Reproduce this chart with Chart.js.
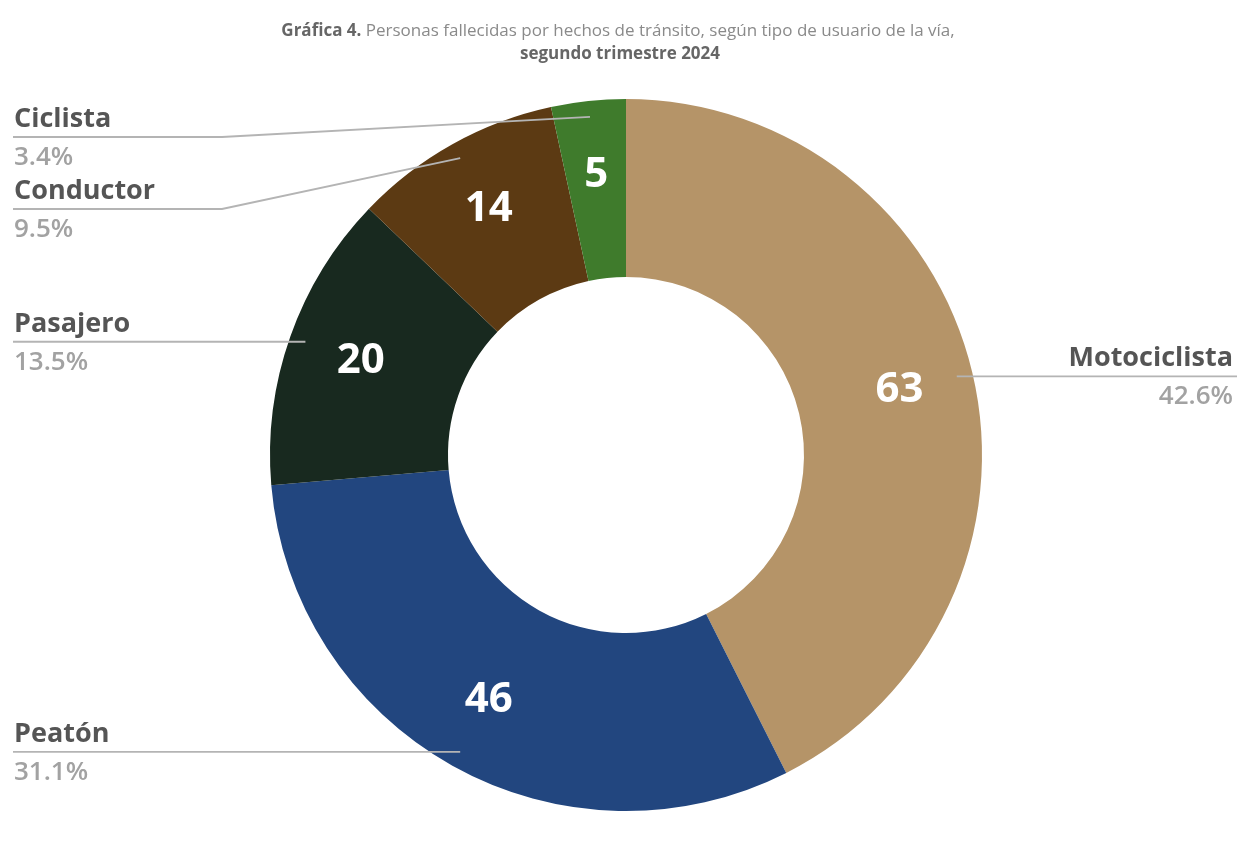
<!DOCTYPE html>
<html>
<head>
<meta charset="utf-8">
<script src="https://cdn.jsdelivr.net/npm/chart.js@4.4.1/dist/chart.umd.min.js"></script>
<style>
  html, body { margin: 0; padding: 0; background: #ffffff; }
  #wrap { position: relative; width: 1245px; height: 843px; }
  canvas { display: block; }
</style>
</head>
<body>
<div id="wrap"><canvas id="c" width="1245" height="843"></canvas></div>
<script>
// ---- data ----
const categories = ['Motociclista', 'Peatón', 'Pasajero', 'Conductor', 'Ciclista'];
const values = [63, 46, 20, 14, 5];
const percentLabels = ['42.6%', '31.1%', '13.5%', '9.5%', '3.4%'];
const colors = ['#B59468', '#22467F', '#18291F', '#5C3A13', '#3F7B2C'];
const titleLine1Bold = 'Gráfica 4.';
const titleLine1 = ' Personas fallecidas por hechos de tránsito, según tipo de usuario de la vía,';
const titleLine2 = 'segundo trimestre 2024';

// callout layout (label side, line y or null to follow anchor)
const calloutSide = ['right', 'left', 'left', 'left', 'left'];
const calloutLineY = [null, null, null, 209, 137];

const FONT = '"Open Sans", Lato, "Noto Sans", sans-serif';

const calloutPlugin = {
  id: 'callouts',
  afterDatasetsDraw(chart) {
    const ctx = chart.ctx;
    const meta = chart.getDatasetMeta(0);
    ctx.save();
    meta.data.forEach((arc, i) => {
      const p = arc.getProps(['x', 'y', 'startAngle', 'endAngle', 'innerRadius', 'outerRadius'], true);
      const mid = (p.startAngle + p.endAngle) / 2;
      // value label inside ring
      const rv = p.innerRadius + 0.58 * (p.outerRadius - p.innerRadius);
      ctx.fillStyle = '#ffffff';
      ctx.font = 'bold 42px ' + FONT;
      ctx.textAlign = 'center';
      ctx.textBaseline = 'middle';
      ctx.fillText(String(values[i]), p.x + rv * Math.cos(mid), p.y + rv * Math.sin(mid));

      // leader line
      const ra = p.outerRadius - 16;
      const ax = p.x + ra * Math.cos(mid);
      const ay = p.y + ra * Math.sin(mid);
      const ly = calloutLineY[i] == null ? ay : calloutLineY[i];
      ctx.strokeStyle = '#b4b4b4';
      ctx.lineWidth = 1.8;
      ctx.beginPath();
      let tx;
      if (calloutSide[i] === 'left') {
        tx = 14;
        ctx.moveTo(13, ly);
        if (calloutLineY[i] != null) ctx.lineTo(222, ly);
        ctx.lineTo(ax, ay);
        ctx.textAlign = 'left';
      } else {
        tx = 1233;
        ctx.moveTo(ax, ay);
        ctx.lineTo(1237, ly);
        ctx.textAlign = 'right';
      }
      ctx.stroke();
      ctx.textBaseline = 'alphabetic';
      ctx.fillStyle = '#555555';
      ctx.font = 'bold 27px ' + FONT;
      ctx.fillText(categories[i], tx, ly - 10);
      ctx.fillStyle = '#a2a2a2';
      ctx.font = '600 26px ' + FONT;
      ctx.fillText(percentLabels[i], tx, ly + 28);
    });

    // title
    ctx.textBaseline = 'middle';
    ctx.font = 'bold 17px ' + FONT;
    const w1 = ctx.measureText(titleLine1Bold).width;
    ctx.font = '17px ' + FONT;
    const w2 = ctx.measureText(titleLine1).width;
    let sx = 618 - (w1 + w2) / 2;
    ctx.textAlign = 'left';
    ctx.fillStyle = '#666666';
    ctx.font = 'bold 17px ' + FONT;
    ctx.fillText(titleLine1Bold, sx, 31);
    ctx.fillStyle = '#8a8a8a';
    ctx.font = '17px ' + FONT;
    ctx.fillText(titleLine1, sx + w1, 31);
    ctx.textAlign = 'center';
    ctx.fillStyle = '#666666';
    ctx.font = 'bold 17px ' + FONT;
    ctx.fillText(titleLine2, 620, 54);
    ctx.restore();
  }
};

new Chart(document.getElementById('c'), {
  type: 'doughnut',
  data: {
    labels: categories,
    datasets: [{
      data: values,
      backgroundColor: colors,
      borderWidth: 0,
      hoverOffset: 0
    }]
  },
  options: {
    responsive: false,
    animation: false,
    cutout: '50%',
    layout: { padding: { top: 99, bottom: 32, left: 270, right: 263 } },
    plugins: {
      legend: { display: false },
      title: { display: false },
      tooltip: { enabled: false }
    }
  },
  plugins: [calloutPlugin]
});
</script>
</body>
</html>
